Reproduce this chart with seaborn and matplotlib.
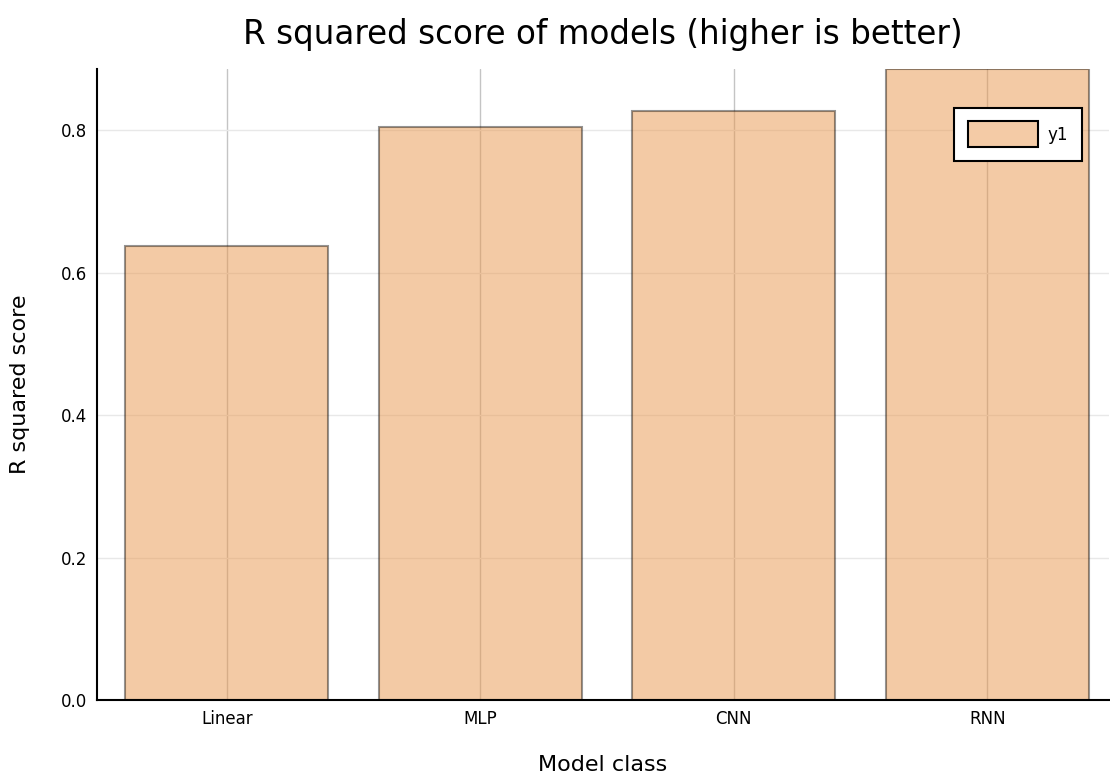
import matplotlib
matplotlib.use("Agg")
import matplotlib.pyplot as plt
import seaborn as sns
import pandas as pd

models = ["Linear", "MLP", "CNN", "RNN"]
scores = [0.637, 0.804, 0.827, 0.886]

sns.set_style("white")
plt.rcParams['font.family'] = ['DejaVu Sans']
plt.rcParams['text.color'] = 'black'
plt.rcParams['axes.labelcolor'] = 'black'

df = pd.DataFrame({"model": models, "score": scores})

fig = plt.figure(figsize=(11.10, 7.78), dpi=100)
ax = fig.add_axes([0.0874, 0.1003, 0.9116, 0.811])

FACE = (233/255, 151/255, 77/255, 0.5)

sns.barplot(data=df, x="model", y="score", color="#e9974d", width=0.8,
            label="y1", ax=ax, zorder=2)
for p in ax.patches:
    p.set_facecolor(FACE)
    p.set_edgecolor((0, 0, 0, 0.42))
    p.set_linewidth(1.5)

ax.set_ylim(0, max(scores))
ax.set_xlim(-0.512, 3.48)
ax.set_yticks([0.0, 0.2, 0.4, 0.6, 0.8])
ax.set_yticklabels(["0.0", "0.2", "0.4", "0.6", "0.8"])

ax.set_axisbelow(True)
ax.yaxis.grid(True, color="#e8e8e8", linewidth=1, alpha=1)
ax.xaxis.grid(True, color="#c4c4c4", linewidth=1, alpha=1)

for s in ["top", "right"]:
    ax.spines[s].set_visible(False)
for s in ["left", "bottom"]:
    ax.spines[s].set_color("black")
    ax.spines[s].set_linewidth(1.5)

ax.tick_params(axis="both", direction="in", length=6, width=1.5, colors="black",
               labelsize=12, pad=7)
ax.tick_params(axis="x", length=5, color="#3a2410")

ax.set_title("R squared score of models (higher is better)", fontsize=23.5,
             pad=18, color="black")
ax.set_xlabel("Model class", fontsize=16, labelpad=20)
ax.set_ylabel("R squared score", fontsize=16, labelpad=22)

leg = ax.legend(loc="upper right", bbox_to_anchor=(0.973, 0.938), fontsize=12,
                frameon=True, fancybox=False, edgecolor="black", framealpha=1,
                handlelength=4.2, handleheight=2.0, borderpad=0.8,
                handletextpad=0.6, borderaxespad=0)
leg.get_frame().set_linewidth(1.5)
for h in leg.legend_handles:
    h.set_alpha(1)
    h.set_facecolor("#f4cba6")
    h.set_edgecolor("black")
    h.set_linewidth(1.5)

fig.savefig("out.png", dpi=100)
